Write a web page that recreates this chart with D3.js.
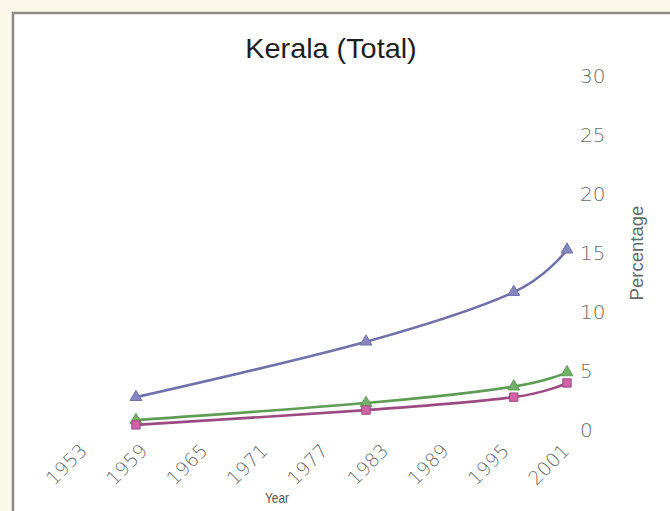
<!DOCTYPE html>
<html>
<head>
<meta charset="utf-8">
<script src="https://cdn.jsdelivr.net/npm/d3@7"></script>
<style>
  html, body { margin: 0; padding: 0; background: #fbf8ea; }
  svg { display: block; }
</style>
</head>
<body>
<svg id="chart" width="670" height="511"></svg>
<script>
// ---- data ----
const title = "Kerala (Total)";
const years = [1957.8, 1980.7, 1995.4, 2000.7];
const seriesPurple = [2.7, 7.4, 11.6, 15.2];
const seriesGreen = [0.75, 2.2, 3.6, 4.8];
const seriesPink = [0.35, 1.6, 2.7, 3.9];
const xTickYears = [1953, 1959, 1965, 1971, 1977, 1983, 1989, 1995, 2001];
const yTickValues = [0, 5, 10, 15, 20, 25, 30];
const xAxisTitle = "Year";
const yAxisTitle = "Percentage";

const series = [
  { name: "purple", values: seriesPurple, color: "#7070aa", marker: "triangle", fill: "#8886c0" },
  { name: "green", values: seriesGreen, color: "#5f9c55", marker: "triangle", fill: "#73b068" },
  { name: "pink", values: seriesPink, color: "#9c4a82", marker: "square", fill: "#d063a8" }
];

const svg = d3.select("#chart");

// frame
svg.append("rect")
  .attr("x", 13).attr("y", 13)
  .attr("width", 700).attr("height", 520)
  .attr("fill", "#ffffff")
  .attr("stroke", "#8a8a86")
  .attr("stroke-width", 2.5);

const x = d3.scaleLinear().domain([1953, 2001]).range([87.7, 570]);
const y = d3.scaleLinear().domain([0, 30]).range([429, 75]);

// title
svg.append("text")
  .attr("x", 331).attr("y", 58)
  .attr("text-anchor", "middle")
  .attr("font-family", "'Liberation Sans', Arial, sans-serif")
  .attr("font-size", 28)
  .attr("fill", "#1e1e1e")
  .attr("transform", "translate(331,0) scale(1.03,1) translate(-331,0)")
  .text(title);

// y axis (right side, labels only)
const yAxis = d3.axisRight(y).tickValues(yTickValues).tickSize(0).tickPadding(0);
const gy = svg.append("g").attr("transform", "translate(580,0)").call(yAxis);
gy.select(".domain").remove();
gy.selectAll("text")
  .attr("font-family", "'DejaVu Sans', sans-serif")
  .attr("font-size", 20)
  .attr("font-weight", 200)
  .attr("fill", "#6a6a6a")
  .attr("x", 0)
  .attr("dy", "0.35em");

// x axis (labels only, rotated)
const xAxis = d3.axisBottom(x).tickValues(xTickYears).tickFormat(d3.format("d")).tickSize(0).tickPadding(0);
const gx = svg.append("g").attr("transform", "translate(0,452)").call(xAxis);
gx.select(".domain").remove();
gx.selectAll("text")
  .attr("font-family", "'DejaVu Sans', sans-serif")
  .attr("font-size", 19)
  .attr("font-weight", 200)
  .attr("fill", "#6a6a6a")
  .attr("y", 0).attr("dy", 0)
  .attr("text-anchor", "end")
  .attr("transform", "rotate(-45)");

// axis titles
svg.append("text")
  .attr("x", 277).attr("y", 503)
  .attr("text-anchor", "middle")
  .attr("font-family", "'Liberation Sans', Arial, sans-serif")
  .attr("font-size", 14)
  .attr("fill", "#555")
  .attr("transform", "translate(277,0) scale(0.85,1) translate(-277,0)")
  .text(xAxisTitle);

svg.append("text")
  .attr("transform", "translate(643,253) rotate(-90) scale(1.03,1)")
  .attr("text-anchor", "middle")
  .attr("font-family", "'Liberation Sans', Arial, sans-serif")
  .attr("font-size", 18)
  .attr("fill", "#666")
  .text(yAxisTitle);

// lines (Excel-like smoothing: uniform Catmull-Rom)
const line = d3.line()
  .x((d, i) => x(years[i]))
  .y(d => y(d))
  .curve(d3.curveCardinal.tension(0));

series.forEach(s => {
  svg.append("path")
    .datum(s.values)
    .attr("fill", "none")
    .attr("stroke", s.color)
    .attr("stroke-width", 2.6)
    .attr("d", line);
});

const symTri = d3.symbol().type(d3.symbolTriangle).size(60);
const symSq = d3.symbol().type(d3.symbolSquare).size(70);
series.forEach(s => {
  svg.append("g").selectAll("path")
    .data(s.values)
    .join("path")
    .attr("transform", (d, i) => `translate(${x(years[i])},${y(d)})`)
    .attr("d", s.marker === "square" ? symSq() : symTri())
    .attr("fill", s.fill)
    .attr("stroke", s.color)
    .attr("stroke-width", 1);
});
</script>
</body>
</html>
